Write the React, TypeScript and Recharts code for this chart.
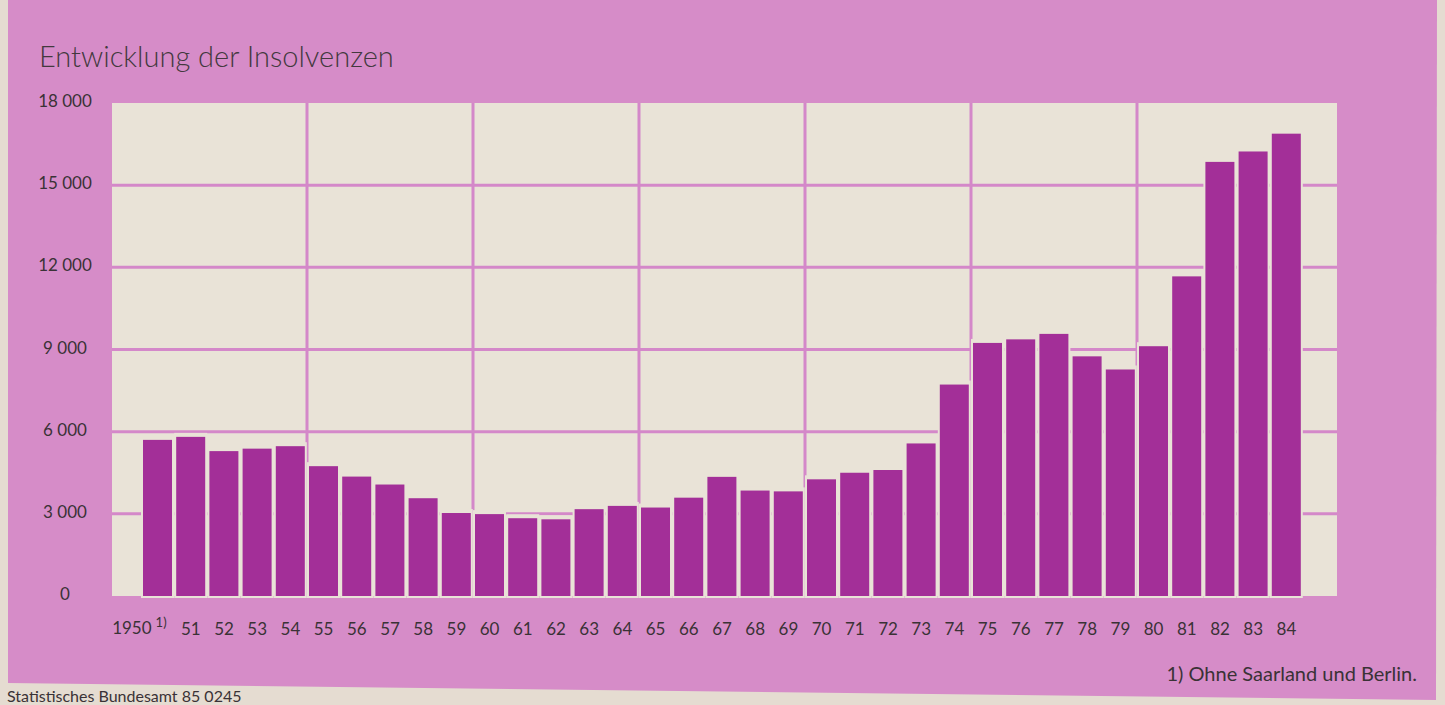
import { BarChart, Bar, XAxis, YAxis, CartesianGrid } from 'recharts';

// Insolvenzen je Jahr, 1950 bis 1984
const yearLabels = [
  '1950', '51', '52', '53', '54', '55', '56', '57', '58', '59',
  '60', '61', '62', '63', '64', '65', '66', '67', '68', '69',
  '70', '71', '72', '73', '74', '75', '76', '77', '78', '79',
  '80', '81', '82', '83', '84',
];
const insolvencies = [
  5700, 5810, 5290, 5380, 5470, 4740, 4360, 4070, 3570, 3030,
  2990, 2840, 2800, 3170, 3290, 3230, 3590, 4350, 3850, 3820,
  4260, 4500, 4600, 5570, 7720, 9240, 9370, 9570, 8750, 8270,
  9120, 11670, 15850, 16230, 16880,
];
const yTicks = [0, 3000, 6000, 9000, 12000, 15000, 18000];
const yTickLabels = ['0', '3 000', '6 000', '9 000', '12 000', '15 000', '18 000'];
const gridValues = [3000, 6000, 9000, 12000, 15000];
// Trennlinien alle fünf Jahre (zwischen 54/55, 59/60, ...)
const fiveYearMarks = [4.5, 9.5, 14.5, 19.5, 24.5, 29.5];

const data = insolvencies.map((value, i) => ({ i, value }));
const xTicks = yearLabels.map((_, i) => i);

const PINK = '#d68cc8';
const PAPER = '#e5dcd1';
const PLOT_BG = '#e9e3d7';
const BAR = '#a32f98';
const GRID = '#d488c9';
const TEXT = '#3a3236';
const FONT = 'Lato, "Open Sans", sans-serif';

const KnockoutBar = (props: any) => {
  const { x, y, width, height } = props;
  if (width == null || height == null) return null;
  return (
    <g>
      <rect x={x - 2} y={y - 4} width={width + 4} height={height + 6} fill={PLOT_BG} />
      <rect x={x} y={y} width={width} height={height} fill={BAR} />
    </g>
  );
};

const XTick = (props: any) => {
  const { x, y, payload } = props;
  const label = yearLabels[payload.value];
  if (payload.value === 0) {
    return (
      <g fill={TEXT} fontFamily={FONT}>
        <text x={x - 6} y={y + 36} fontSize={17} textAnchor="end">{label}</text>
        <text x={x - 2} y={y + 29} fontSize={13}>1)</text>
      </g>
    );
  }
  return (
    <text x={x} y={y + 37} fill={TEXT} fontFamily={FONT} fontSize={17} textAnchor="middle">
      {label}
    </text>
  );
};

const LeftTick = (props: any) => {
  const { y, payload } = props;
  const idx = yTicks.indexOf(payload.value);
  return (
    <text x={65} y={y + 4} fill={TEXT} fontFamily={FONT} fontSize={17} textAnchor="middle">
      {yTickLabels[idx]}
    </text>
  );
};

const RightTick = (props: any) => {
  const { y, payload } = props;
  const idx = yTicks.indexOf(payload.value);
  return (
    <text x={1353} y={y + 10} fill={TEXT} fontFamily={FONT} fontSize={17} textAnchor="start">
      {yTickLabels[idx]}
    </text>
  );
};

export default function App() {
  return (
    <div
      style={{
        position: 'fixed',
        top: 0,
        left: 0,
        width: 1445,
        height: 705,
        overflow: 'hidden',
        background: PAPER,
        fontFamily: FONT,
      }}
    >
      <div
        style={{
          position: 'absolute',
          inset: 0,
          background: PINK,
          clipPath: 'polygon(8px 0, 1437px 0, 1436px 700px, 8px 683px)',
        }}
      />
      <div
        style={{
          position: 'absolute',
          left: 39,
          top: 40,
          fontSize: 29,
          fontWeight: 300,
          lineHeight: '32px',
          color: '#43393e',
          whiteSpace: 'nowrap',
        }}
      >
        Entwicklung der Insolvenzen
      </div>

      <div style={{ position: 'absolute', left: 0, top: 0 }}>
        <BarChart
          width={1445}
          height={705}
          data={data}
          margin={{ top: 103, right: 0, bottom: 0, left: 0 }}
        >
          <CartesianGrid
            yAxisId="l"
            fill={PLOT_BG}
            fillOpacity={1}
            stroke={GRID}
            strokeWidth={3}
            horizontalValues={gridValues}
            verticalValues={fiveYearMarks}
          />
          <XAxis
            dataKey="i"
            type="number"
            domain={[-0.5, 34.5]}
            ticks={xTicks}
            interval={0}
            padding={{ left: 29, right: 34 }}
            height={109}
            axisLine={false}
            tickLine={false}
            tickSize={0}
            tick={<XTick />}
          />
          <YAxis
            yAxisId="l"
            orientation="left"
            width={112}
            domain={[0, 18000]}
            ticks={yTicks}
            axisLine={false}
            tickLine={false}
            tick={<LeftTick />}
          />
          <YAxis
            yAxisId="r"
            orientation="right"
            width={108}
            domain={[0, 18000]}
            ticks={yTicks}
            axisLine={false}
            tickLine={false}
            tick={<RightTick />}
          />
          <Bar
            yAxisId="l"
            dataKey="value"
            barSize={29}
            shape={<KnockoutBar />}
            isAnimationActive={false}
          />
        </BarChart>
      </div>

      <div
        style={{
          position: 'absolute',
          right: 28,
          top: 661,
          fontSize: 20,
          lineHeight: '24px',
          color: TEXT,
          whiteSpace: 'nowrap',
        }}
      >
        1) Ohne Saarland und Berlin.
      </div>
      <div
        style={{
          position: 'absolute',
          left: 7,
          top: 687,
          fontSize: 16,
          lineHeight: '17px',
          color: TEXT,
          whiteSpace: 'nowrap',
        }}
      >
        Statistisches Bundesamt 85 0245
      </div>
    </div>
  );
}
